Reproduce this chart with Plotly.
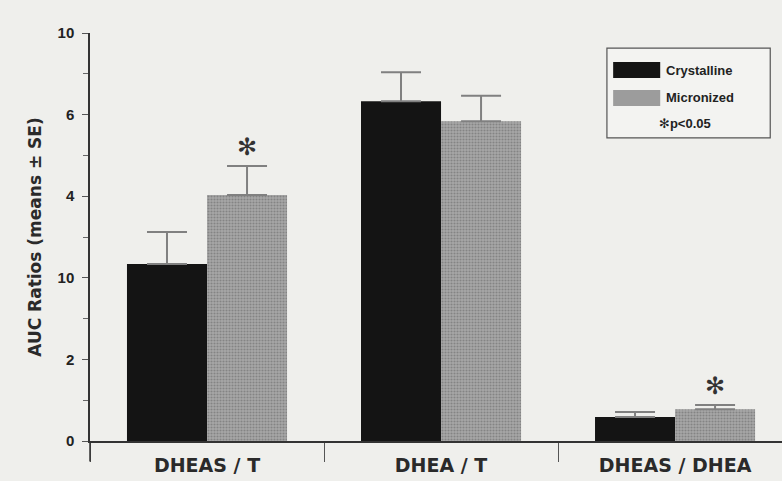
import plotly.graph_objects as go

categories = ["DHEAS / T", "DHEA / T", "DHEAS / DHEA"]
crystalline = [4.34, 8.33, 0.59]
crystalline_se = [0.78, 0.71, 0.12]
micronized = [6.03, 7.84, 0.78]
micronized_se = [0.71, 0.62, 0.10]
significant = [True, False, True]
ytick_vals = [0, 2, 4, 6, 8, 10]
ytick_text = ["0", "2", "10", "4", "6", "10"]

BG = "#efefec"
FONT = "Liberation Sans"
WIDE = "DejaVu Sans"

fig = go.Figure()
fig.add_trace(go.Bar(
    x=categories, y=crystalline, name="Crystalline",
    marker=dict(color="#141414", line=dict(width=0)),
    error_y=dict(type="data", array=crystalline_se, arrayminus=[0] * 3,
                 symmetric=False, color="#808080", thickness=2, width=20),
))
fig.add_trace(go.Bar(
    x=categories, y=micronized, name="Micronized",
    marker=dict(color="#9a9a9a", line=dict(width=0),
                pattern=dict(shape=".", fgcolor="#606060", bgcolor="#a8a8a8",
                             size=3, solidity=0.4)),
    error_y=dict(type="data", array=micronized_se, arrayminus=[0] * 3,
                 symmetric=False, color="#808080", thickness=2, width=20),
))

# significance asterisks above micronized bars
for i, (cat, sig) in enumerate(zip(categories, significant)):
    if sig:
        fig.add_annotation(x=i + 0.17, y=micronized[i] + micronized_se[i],
                           xref="x", yref="y", text="✻", showarrow=False,
                           yshift=19, font=dict(size=24, color="#333",
                                                family="DejaVu Sans"))

# legend box drawn manually
fig.add_shape(type="rect", xref="paper", yref="paper",
              x0=0.747, x1=0.983, y0=0.743, y1=0.963,
              line=dict(color="#555", width=1.2), fillcolor="#f3f3f1")
fig.add_shape(type="rect", xref="paper", yref="paper",
              x0=0.756, x1=0.824, y0=0.890, y1=0.929,
              line=dict(width=0), fillcolor="#141414")
fig.add_shape(type="rect", xref="paper", yref="paper",
              x0=0.756, x1=0.824, y0=0.821, y1=0.860,
              line=dict(width=0), fillcolor="#9c9c9c")
fig.add_annotation(xref="paper", yref="paper", x=0.829, y=0.909,
                   xanchor="left", yanchor="middle", text="<b>Crystalline</b>",
                   showarrow=False, font=dict(size=13, color="#222", family=FONT))
fig.add_annotation(xref="paper", yref="paper", x=0.829, y=0.841,
                   xanchor="left", yanchor="middle", text="<b>Micronized</b>",
                   showarrow=False, font=dict(size=13, color="#222", family=FONT))
fig.add_annotation(xref="paper", yref="paper", x=0.860, y=0.777,
                   xanchor="center", yanchor="middle",
                   text="<span style='font-family:DejaVu Sans'>✻</span><b>p<0.05</b>",
                   showarrow=False, font=dict(size=13, color="#222", family=FONT))

# y axis line extending below zero
fig.add_shape(type="line", xref="paper", yref="paper", x0=0, x1=0,
              y0=-0.05, y1=0, line=dict(color="#333", width=1.5))

fig.update_layout(
    width=782, height=481,
    margin=dict(l=90, r=0, t=33, b=40),
    paper_bgcolor=BG, plot_bgcolor=BG,
    barmode="group", bargap=0.316, bargroupgap=0,
    showlegend=False,
    font=dict(family=FONT, color="#222"),
)
fig.update_xaxes(
    range=[-0.5, 2.457], showline=True, linecolor="#333", linewidth=1.5,
    ticks="outside", tickson="boundaries", ticklen=19, tickcolor="#555",
    tickwidth=1, showgrid=False, zeroline=False, ticklabelstandoff=6,
    tickfont=dict(size=19, family=WIDE, color="#2a2a2a"),
    tickprefix="<b>", ticksuffix="</b>",
)
fig.update_yaxes(
    range=[0, 10], showline=True, linecolor="#333", linewidth=1.5,
    tickvals=ytick_vals, ticktext=["<b>" + t + "</b>" for t in ytick_text],
    ticks="outside", ticklen=6, tickcolor="#555", tickwidth=1,
    minor=dict(tickvals=[1, 3, 5, 7, 9], ticks="outside", ticklen=5,
               tickcolor="#666"),
    showgrid=False, zeroline=False, ticklabelstandoff=5,
    tickfont=dict(size=15, family=FONT, color="#222"),
    title=dict(text="<b>AUC Ratios (means ± SE)</b>", standoff=12,
               font=dict(size=17, family=WIDE, color="#2a2a2a")),
)

fig.write_html(
    "out.html",
    config={"displayModeBar": False},
    post_script="document.body.style.margin='0';"
                "document.body.style.background='" + BG + "';",
)
